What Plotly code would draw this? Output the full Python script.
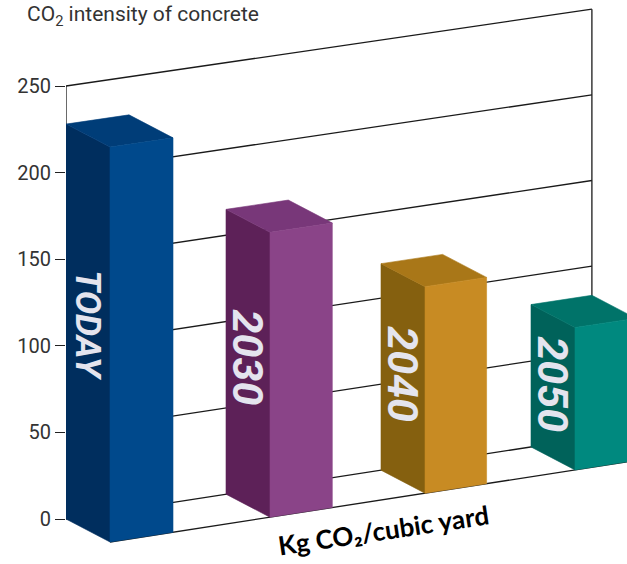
import plotly.graph_objects as go

# ---------------- data ----------------
categories = ["TODAY", "2030", "2040", "2050"]
values = [228, 165, 120, 83]
y_ticks = [0, 50, 100, 150, 200, 250]
y_top = 250
title_text = "CO<sub>2</sub> intensity of concrete"
unit_text = "<b>Kg CO₂/cubic yard</b>"

front_colors = ["#00498C", "#8A4488", "#C88B23", "#00897F"]
side_colors = ["#002E5E", "#5D2158", "#85600F", "#00625A"]
top_colors = ["#003D78", "#783779", "#A97718", "#007369"]
label_color = "#E4E4EE"
label_sizes = [35, 43, 43, 43]

# ---------------- pseudo-3D projection ----------------
W, H = 627, 564
ML = 66                       # left margin = back-left wall edge
PX_PER_UNIT = 1.732
ZERO_PX = 519                 # pixel row of value 0 at the wall's left edge
SHEAR = 0.155 / PX_PER_UNIT   # wall slope (value units per px)
PERSP = 2.06e-5               # slight vertical foreshortening to the right
DEPTH_DX = 44
DEPTH_DY = 23 / PX_PER_UNIT
SLOT_STEP = 160
SLOT_SHRINK = 5
BAR_W0 = 63
BAR_W_SHRINK = 0.7

y_lo = (ZERO_PX - H) / PX_PER_UNIT
y_hi = ZERO_PX / PX_PER_UNIT


def proj(x, v, d=0.0):
    return (x + DEPTH_DX * d,
            SHEAR * (x - ML) + v * (1 - PERSP * (x - ML)) - DEPTH_DY * d)


def bar_left(i):
    return ML + SLOT_STEP * i - SLOT_SHRINK * i * (i - 1) / 2


def bar_width(i):
    return BAR_W0 - BAR_W_SHRINK * i


fig = go.Figure()


def poly(pts, color):
    xs = [p[0] for p in pts] + [pts[0][0]]
    ys = [p[1] for p in pts] + [pts[0][1]]
    fig.add_trace(go.Scatter(x=xs, y=ys, mode="lines", fill="toself",
                             fillcolor=color, line=dict(color=color, width=0.6),
                             hoverinfo="skip", showlegend=False))


wall_right = bar_left(len(values) - 1) + bar_width(len(values) - 1)

# back wall gridlines + edges
gx, gy = [], []
for t in y_ticks:
    for x in (ML, wall_right):
        px, py = proj(x, t)
        gx.append(px); gy.append(py)
    gx.append(None); gy.append(None)
for x in (ML, wall_right):
    for t in (0, y_top):
        px, py = proj(x, t)
        gx.append(px); gy.append(py)
    gx.append(None); gy.append(None)
# floor front edge
for x in (ML, W + 60):
    px, py = proj(x, 0, 1)
    gx.append(px); gy.append(py)
fig.add_trace(go.Scatter(x=gx, y=gy, mode="lines",
                         line=dict(color="#1A1A1A", width=1.3),
                         hoverinfo="skip", showlegend=False))

# bars
for i, (cat, v) in enumerate(zip(categories, values)):
    x0 = bar_left(i)
    x1 = x0 + bar_width(i)
    side = [proj(x0, 0, 0), proj(x0, v, 0), proj(x0, v, 1), proj(x0, 0, 1)]
    top = [proj(x0, v, 0), proj(x1, v, 0), proj(x1, v, 1), proj(x0, v, 1)]
    front = [proj(x0, 0, 1), proj(x0, v, 1), proj(x1, v, 1), proj(x1, 0, 1)]
    poly(side, side_colors[i])
    poly(top, top_colors[i])
    poly(front, front_colors[i])
    lx, ly = proj(x0, v * 0.52, 0.5)
    fig.add_annotation(x=lx, y=ly, xref="x", yref="y", showarrow=False,
                       text=f"<b><i>{cat}</i></b>", textangle=90,
                       font=dict(family="Liberation Sans Narrow, Roboto, sans-serif",
                                 size=label_sizes[i], color=label_color))

# unit label along the floor
ux, uy = 383, (ZERO_PX - 530) / PX_PER_UNIT
fig.add_annotation(x=ux, y=uy, xref="x", yref="y", showarrow=False,
                   text=unit_text, textangle=-8.5,
                   font=dict(family="Lato, Open Sans, sans-serif", size=26, color="#000000"))

fig.update_layout(
    width=W, height=H, autosize=False,
    margin=dict(l=ML, r=0, t=0, b=0, pad=0),
    paper_bgcolor="white", plot_bgcolor="white",
    showlegend=False,
    title=dict(text=title_text, x=27 / W, xanchor="left", xref="container",
               y=1 - 14 / H, yanchor="middle", yref="container",
               font=dict(family="Roboto, sans-serif", size=21, color="#333333")),
    xaxis=dict(range=[ML, W], visible=False, fixedrange=True),
    yaxis=dict(range=[y_lo, y_hi], tickvals=y_ticks, ticks="outside", ticklen=10,
               tickcolor="#222222", tickwidth=1.2, showgrid=False, zeroline=False,
               showline=False, fixedrange=True,
               tickfont=dict(family="Roboto, sans-serif", size=20, color="#333333")),
)

fig.write_html("out.html")
